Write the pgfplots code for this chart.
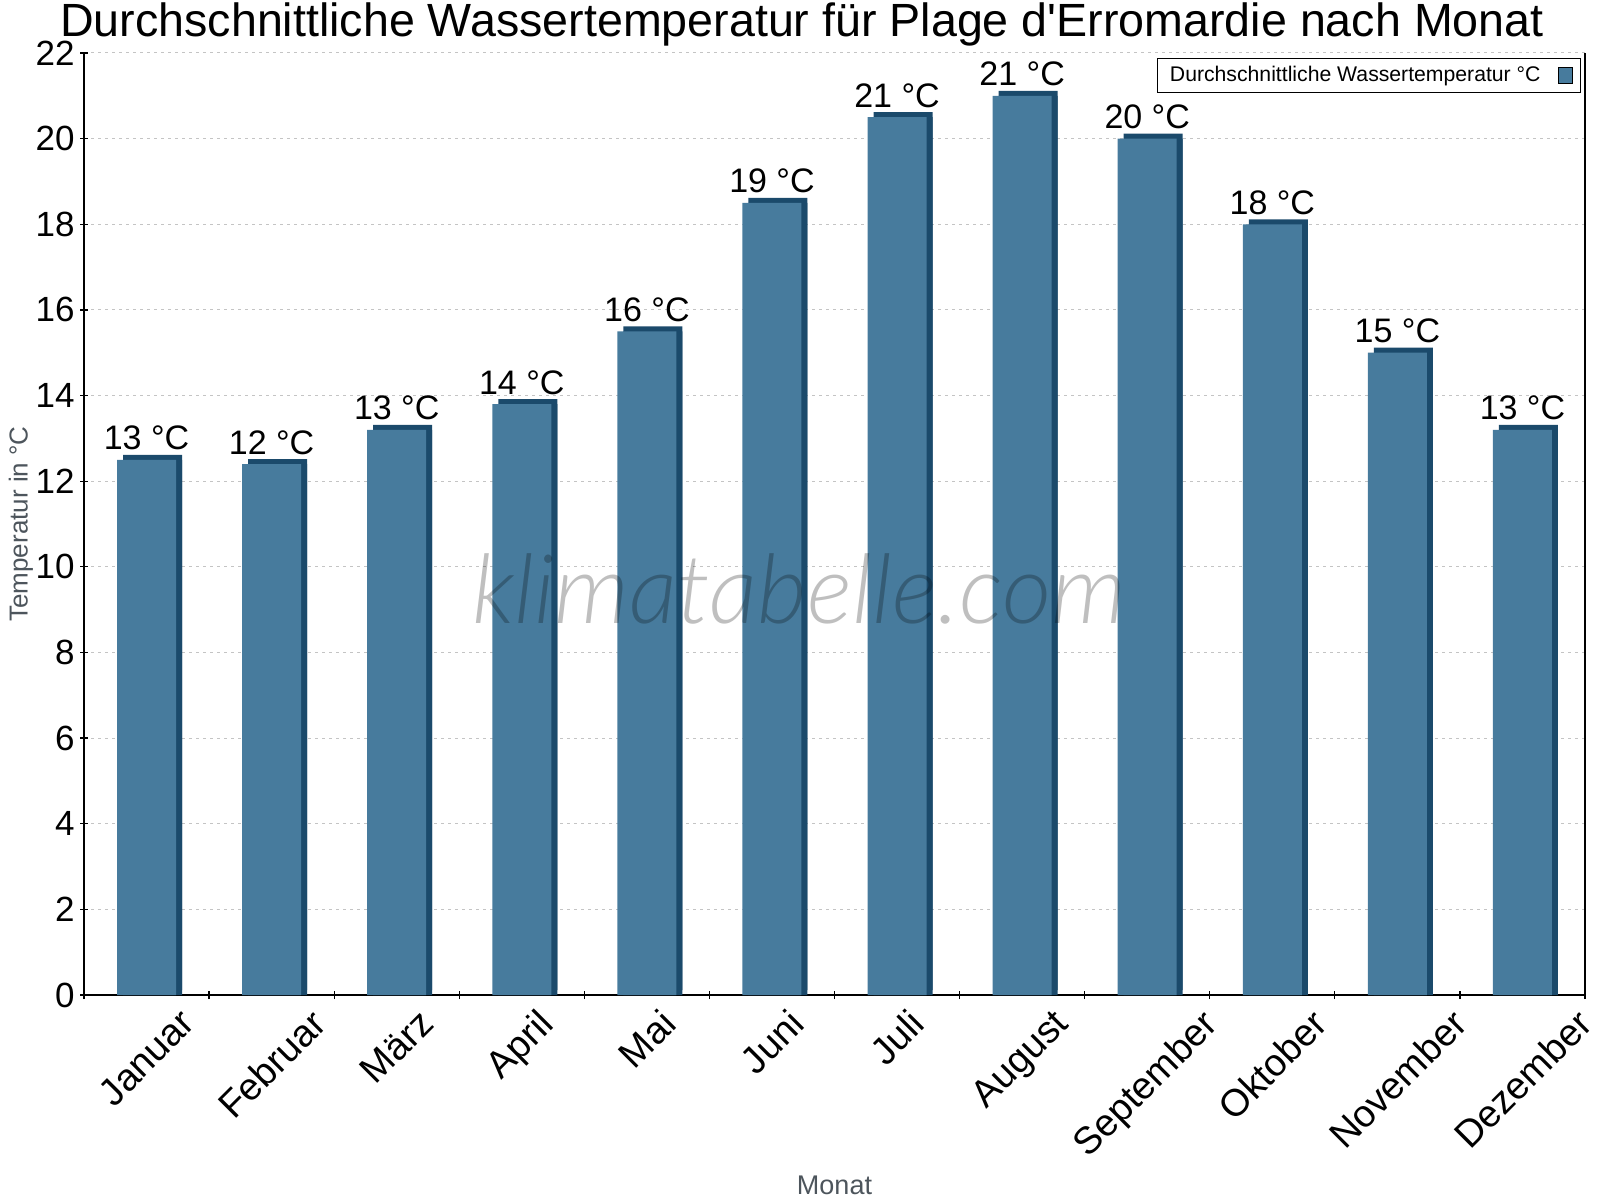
\documentclass[border=0pt]{standalone}
\usepackage{fontspec}
\setmainfont{Liberation Sans}
\newfontfamily\wmfont{Lato}[UprightFont=* Light, ItalicFont=* Light Italic]
\usepackage{pgfplots}
\pgfplotsset{compat=1.18}
\usepackage{pgfplotstable}

\definecolor{barface}{HTML}{477B9D}
\definecolor{barside}{HTML}{1B4A6B}
\definecolor{labelgray}{HTML}{4D555C}
\definecolor{gridgray}{HTML}{C4C4C4}

% monthly mean water temperature, label = rounded value
\pgfplotstableread{
x y lab
0 12.5 13
1 12.4 12
2 13.2 13
3 13.8 14
4 15.5 16
5 18.5 19
6 20.5 21
7 21.0 21
8 20.0 20
9 18.0 18
10 15.0 15
11 13.2 13
}\wasser

\newcommand{\rot}[1]{\rotatebox{45}{#1}}

\begin{document}
\begin{tikzpicture}
\useasboundingbox (0,0) rectangle (800pt,600pt);
\begin{axis}[
  at={(42pt,102.5pt)}, anchor=south west,
  scale only axis, width=750.5pt, height=471pt,
  ybar, bar width=29.5pt, bar shift=0pt,
  xmin=-0.5, xmax=11.5, ymin=0, ymax=22,
  axis x line=bottom, axis y line=box,
  axis line style={-, line width=0.6pt, black},
  xtick={-0.5,0.5,...,11.5}, xticklabels={},
  extra x ticks={0,1,...,11},
  extra x tick labels={\rot{Januar},\rot{Februar},\rot{März},\rot{April},\rot{Mai},\rot{Juni},\rot{Juli},\rot{August},\rot{September},\rot{Oktober},\rot{November},\rot{Dezember}},
  extra x tick style={major tick length=0pt},
  xticklabel style={anchor=north, inner sep=0pt, yshift=-6pt, font=\fontsize{19}{22}\selectfont},
  ytick={0,2,...,22}, ytick pos=left,
  yticklabel style={inner sep=0pt, xshift=-2.5pt, font=\fontsize{17.5}{20}\selectfont},
  /pgf/number format/assume math mode=true,
  tick align=center, major tick length=4pt,
  tick style={black, line width=0.6pt},
  ymajorgrids, grid style={gridgray, line width=0.5pt, dash pattern=on 1.5pt off 2pt},
  legend plot pos=right,
  legend image code/.code={\draw[fill=barface, draw=black, line width=0.5pt] (0pt,-4pt) rectangle (7pt,4pt);},
  legend style={at={(rel axis cs:1,1)}, anchor=north east, xshift=-2pt, yshift=-2.5pt,
    draw=black, line width=0.5pt, inner xsep=4pt, inner ysep=2pt,
    font=\fontsize{10.6}{12}\selectfont,
    /tikz/every odd column/.append style={column sep=6.5pt}},
]
\addplot[fill=barside, draw=none, bar shift=3pt, yshift=2.5pt, forget plot] table[x=x, y=y] {\wasser};
\addplot[fill=barside, draw=none, bar shift=3pt, forget plot] table[x=x, y=y] {\wasser};
\addplot[fill=barface, draw=none,
  point meta=explicit symbolic,
  nodes near coords={\pgfplotspointmeta{} °C},
  every node near coord/.append style={anchor=base, inner sep=0pt, yshift=5pt, black, font=\fontsize{17}{20}\selectfont},
] table[x=x, y=y, meta=lab] {\wasser};
\addlegendentry{Durchschnittliche Wassertemperatur °C}
\end{axis}

% titles and axis labels
\node[anchor=base, font=\fontsize{23.3}{27}\selectfont] at (401pt,581.5pt)
  {Durchschnittliche Wassertemperatur für Plage d\textquotesingle Erromardie nach Monat};
\node[rotate=90, labelgray, font=\fontsize{13}{15}\selectfont] at (10.5pt,338pt) {Temperatur in °C};
\node[anchor=base, labelgray, font=\fontsize{13.5}{16}\selectfont] at (417.25pt,3pt) {Monat};

% watermark
\node[anchor=base, black, opacity=0.25, font=\wmfont\itshape\fontsize{48}{54}\selectfont] at (399.5pt,288pt) {klimatabelle.com};
\end{tikzpicture}
\end{document}
